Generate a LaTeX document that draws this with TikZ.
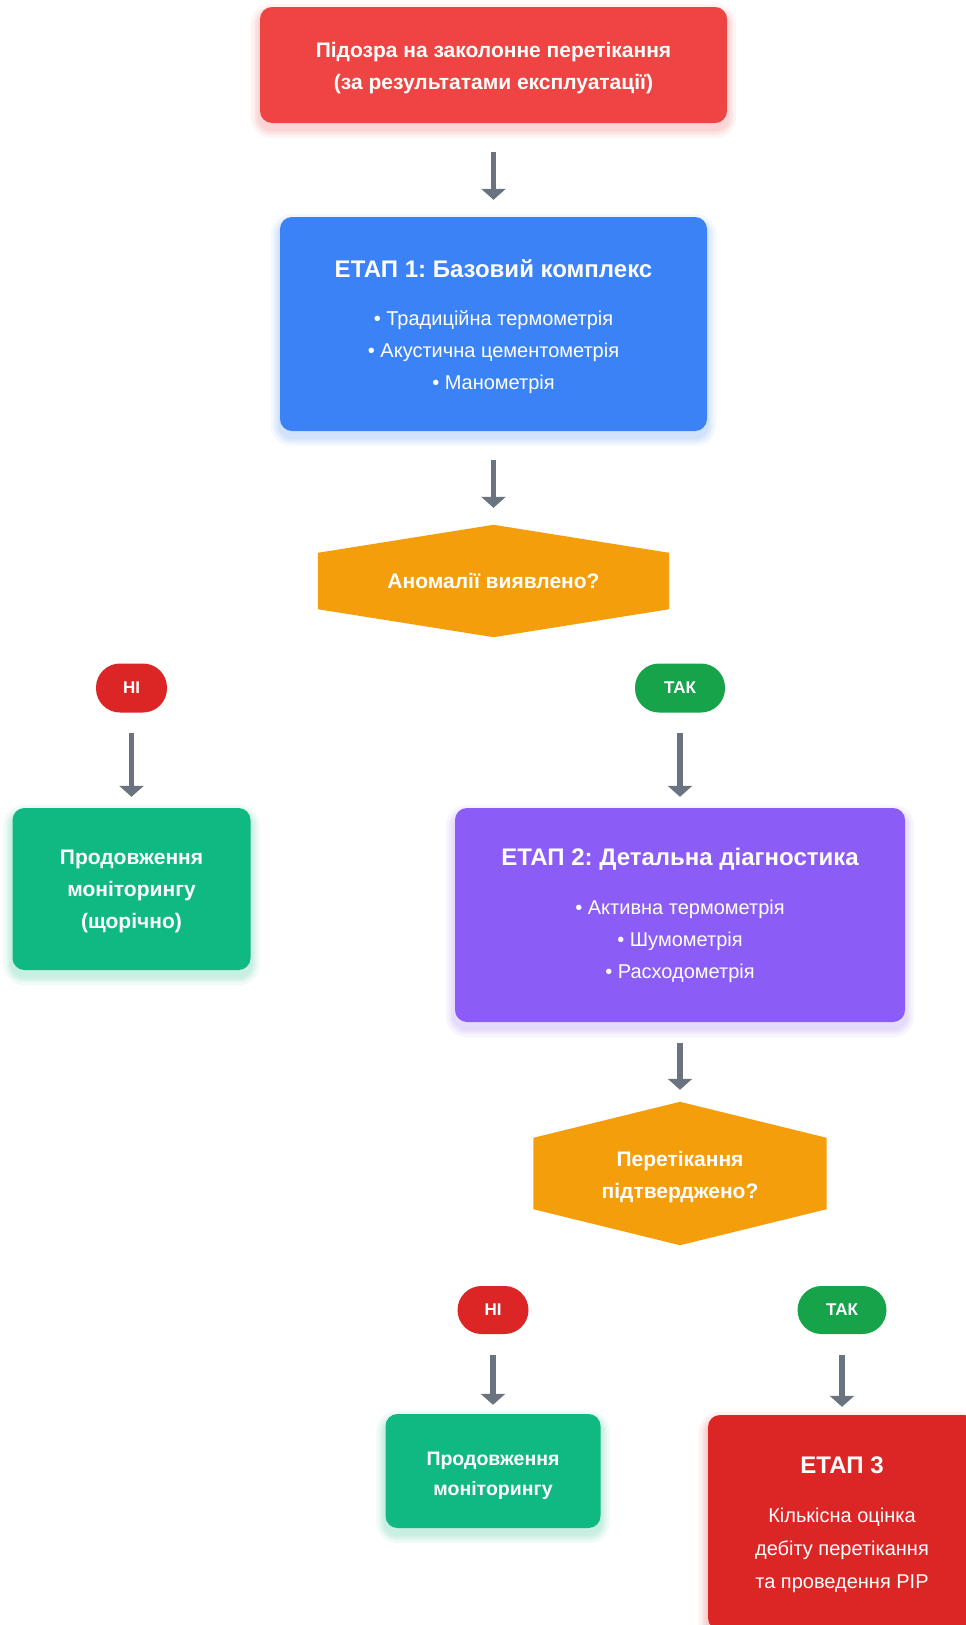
\documentclass[tikz,border=0pt]{standalone}
\usepackage{fontspec}
\setmainfont{Liberation Sans}
\usetikzlibrary{arrows.meta,backgrounds}
\definecolor{cTop}{HTML}{EF4444}
\definecolor{cBlue}{HTML}{3B82F6}
\definecolor{cAmber}{HTML}{F59E0B}
\definecolor{cRed}{HTML}{DC2626}
\definecolor{cGreenPill}{HTML}{16A34A}
\definecolor{cGreen}{HTML}{10B981}
\definecolor{cPurple}{HTML}{8B5CF6}
\definecolor{cArrow}{HTML}{6B7280}
\tikzset{
  box/.style={rounded corners=12pt, inner sep=0pt},
  txt/.style={inner sep=0pt, text=white, align=center},
  pill/.style={rounded corners=24pt, inner sep=0pt, text=white, align=center,
    font=\fontsize{17}{20}\selectfont\bfseries},
  hexnode/.style={inner sep=0pt, text=white, align=center,
    font=\fontsize{21}{32}\selectfont\bfseries},
  arr/.style={draw=cArrow, line width=5.5pt, -{Triangle[width=24pt,length=11pt]}},
}
\newcommand{\ttl}[1]{{\fontsize{24}{32}\selectfont\bfseries #1}}
\newcommand{\softshadow}[2]{%
  \foreach \k/\r in {2/14,4/16,6/18,9/21}{%
    \fill[#2, fill opacity=0.06, rounded corners=\r pt]
      ([xshift=-\k pt, yshift=-6pt-\k pt]#1.south west) rectangle
      ([xshift=\k pt, yshift=-6pt+\k pt]#1.north east);}}
\frenchspacing
\begin{document}
\begin{tikzpicture}[x=1pt,y=-1pt]
\useasboundingbox (0,0) rectangle (966,1625);

% boxes
\node[box, fill=cTop, minimum width=467pt, minimum height=116pt] (top) at (493.5,65) {};
\node[txt, font=\fontsize{21}{32}\selectfont\bfseries] (topT) at ([yshift=-3pt]top.center)
  {Підозра на заколонне перетікання\\(за результатами експлуатації)};

\node[box, fill=cBlue, minimum width=427pt, minimum height=214pt] (s1) at (493.5,324) {};
\node[txt, font=\fontsize{20}{32}\selectfont] (s1T) at ([yshift=-3pt]s1.center)
  {\ttl{ЕТАП 1: Базовий комплекс}\\[16pt]• Традиційна термометрія\\• Акустична цементометрія\\• Манометрія};

\node[hexnode, minimum width=351pt, minimum height=112pt] (h1) at (493.5,581)
  {Аномалії виявлено?};

\node[pill, fill=cRed, minimum width=71pt, minimum height=49pt] (no1) at (131.5,688) {НІ};
\node[pill, fill=cGreenPill, minimum width=90pt, minimum height=49pt] (yes1) at (680,688) {ТАК};

\node[box, fill=cGreen, minimum width=238pt, minimum height=162pt] (g1) at (131.5,889) {};
\node[txt, font=\fontsize{21}{32}\selectfont\bfseries] (g1T) at ([yshift=-2pt]g1.center)
  {Продовження\\моніторингу\\(щорічно)};

\node[box, fill=cPurple, minimum width=450pt, minimum height=214pt] (s2) at (680,915) {};
\node[txt, font=\fontsize{20}{32}\selectfont] (s2T) at ([yshift=0pt]s2.center)
  {\ttl{ЕТАП 2: Детальна діагностика}\\[17pt]• Активна термометрія\\• Шумометрія\\• Расходометрія};

\node[hexnode, minimum width=293pt, minimum height=143pt] (h2) at (680,1173.5) {};
\node[txt, font=\fontsize{21}{32}\selectfont\bfseries] (h2T) at ([yshift=-4pt]h2.center)
  {Перетікання\\підтверджено?};

\node[pill, fill=cRed, minimum width=71pt, minimum height=48pt] (no2) at (493,1310) {НІ};
\node[pill, fill=cGreenPill, minimum width=89pt, minimum height=48pt] (yes2) at (842,1310) {ТАК};

\node[box, fill=cGreen, minimum width=215pt, minimum height=114pt] (g2) at (493,1471) {};
\node[txt, font=\fontsize{19.5}{30}\selectfont\bfseries] (g2T) at ([yshift=-5pt]g2.center)
  {Продовження\\моніторингу};

\node[box, fill=cRed, minimum width=268pt, minimum height=215pt] (s3) at (842,1522.5) {};
\node[txt, font=\fontsize{20}{33}\selectfont] (s3T) at ([yshift=-2.5pt]s3.center)
  {\ttl{ЕТАП 3}\\[16pt]Кількісна оцінка\\дебіту перетікання\\та проведення РІР};

\begin{scope}[on background layer]
\fill[white] (0,0) rectangle (966,1625);
\softshadow{top}{cTop}
\softshadow{s1}{cBlue}
\softshadow{g1}{cGreen}
\softshadow{s2}{cPurple}
\softshadow{g2}{cGreen}
\softshadow{s3}{cRed}
\fill[cAmber] (h1.north) -- ([yshift=-28pt]h1.north east) -- ([yshift=28pt]h1.south east)
  -- (h1.south) -- ([yshift=28pt]h1.south west) -- ([yshift=-28pt]h1.north west) -- cycle;
\fill[cAmber] (h2.north) -- ([yshift=-36pt]h2.north east) -- ([yshift=36pt]h2.south east)
  -- (h2.south) -- ([yshift=36pt]h2.south west) -- ([yshift=-36pt]h2.north west) -- cycle;
\end{scope}

\draw[arr, shorten <=29pt, shorten >=17pt] (top) -- (s1);
\draw[arr, shorten <=29pt, shorten >=17pt] (s1) -- (h1);
\draw[arr, shorten <=20pt, shorten >=11pt] (no1) -- (g1);
\draw[arr, shorten <=20pt, shorten >=11pt] (yes1) -- (s2);
\draw[arr, shorten <=21pt, shorten >=12pt] (s2) -- (h2);
\draw[arr, shorten <=21pt, shorten >=9pt] (no2) -- (g2);
\draw[arr, shorten <=21pt, shorten >=8pt] (yes2) -- (s3);
\end{tikzpicture}
\end{document}
